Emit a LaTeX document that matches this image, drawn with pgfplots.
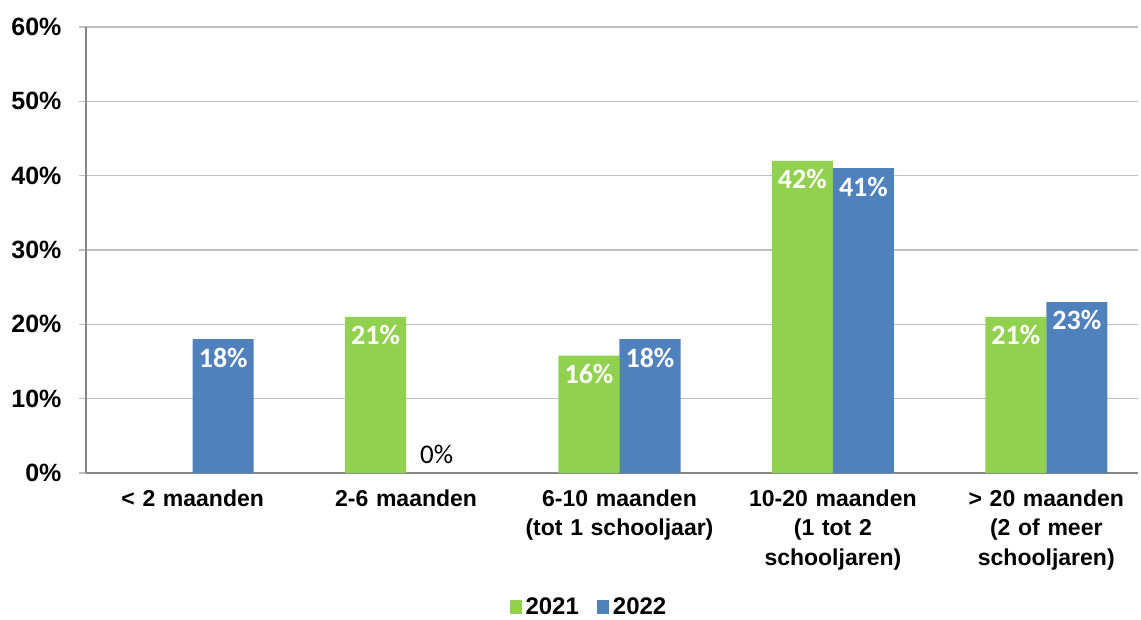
\documentclass[border=0pt]{standalone}
\usepackage{fontspec}
\setmainfont{Liberation Sans}
\newfontfamily\calibri{Carlito}
\usepackage{pgfplots}
\pgfplotsset{compat=1.18}
\definecolor{g21}{HTML}{92D050}
\definecolor{b22}{HTML}{4F81BD}
\definecolor{gridc}{HTML}{BFBFBF}
\definecolor{axc}{HTML}{868686}
\begin{document}
\begin{tikzpicture}
\useasboundingbox (-86pt,-146pt) rectangle (1055pt,473pt);
\begin{axis}[
  at={(0,0)}, anchor=south west, scale only axis,
  width=1052pt, height=446pt,
  ymin=0, ymax=60, xmin=-0.5, xmax=4.43,
  axis x line*=bottom, axis y line*=left,
  axis line style={-, draw=axc, line width=1.5pt},
  ytick={0,10,...,60},
  yticklabels={0\%,10\%,20\%,30\%,40\%,50\%,60\%},
  ymajorgrids, major grid style={draw=gridc, line width=1.5pt},
  tick align=outside, major tick length=7pt,
  major y tick style={draw=gridc, line width=1.5pt},
  major x tick style={draw=none},
  xtick={0,1,2,3,4},
  xticklabels={{\textless\ 2 maanden},{2-6 maanden},{6-10 maanden\\(tot 1 schooljaar)},{10-20 maanden\\(1 tot 2\\schooljaren)},{\textgreater\ 20 maanden\\(2 of meer\\schooljaren)}},
  extra x ticks={-0.5,0.5,1.5,2.5,3.5},
  extra x tick labels={},
  extra x tick style={grid=none, major tick style={draw=axc, line width=1.5pt}},
  xticklabel style={font=\bfseries\fontsize{23}{29.5}\selectfont, align=center, text width=230pt, yshift=-6pt},
  yticklabel style={font=\bfseries\fontsize{25}{29}\selectfont, xshift=-14pt},
  ybar, bar width=0.286,
  point meta=explicit symbolic,
  legend style={at={(0.479,-0.30)}, anchor=center, draw=none, legend columns=2,
    font=\bfseries\fontsize{24}{26}\selectfont, inner sep=0pt,
    nodes={inner ysep=0pt, inner xsep=4pt},
    /tikz/every even column/.append style={column sep=14pt}},
  legend image code/.code={\fill[#1] (0pt,-7pt) rectangle (12pt,7pt);},
]
\addplot[fill=g21, draw=none, bar shift=-0.143, nodes near coords,
  every node near coord/.append style={font=\calibri\bfseries\fontsize{28}{28}\selectfont, text=white, anchor=north, yshift=-5pt}]
  coordinates {(1,21) [21\%] (2,15.8) [16\%] (3,42) [42\%] (4,21) [21\%]};
\addlegendentry{2021}
\addplot[fill=b22, draw=none, bar shift=0.143, nodes near coords,
  every node near coord/.append style={font=\calibri\bfseries\fontsize{28}{28}\selectfont, text=white, anchor=north, yshift=-5pt}]
  coordinates {(0,18) [18\%] (2,18) [18\%] (3,41) [41\%] (4,23) [23\%]};
\addlegendentry{2022}
\addplot[draw=none, fill=none, bar shift=0.143, forget plot, nodes near coords,
  every node near coord/.append style={font=\calibri\fontsize{27}{27}\selectfont, text=black, anchor=south, yshift=6pt}]
  coordinates {(1,0) [0\%]};
\end{axis}
\end{tikzpicture}
\end{document}
